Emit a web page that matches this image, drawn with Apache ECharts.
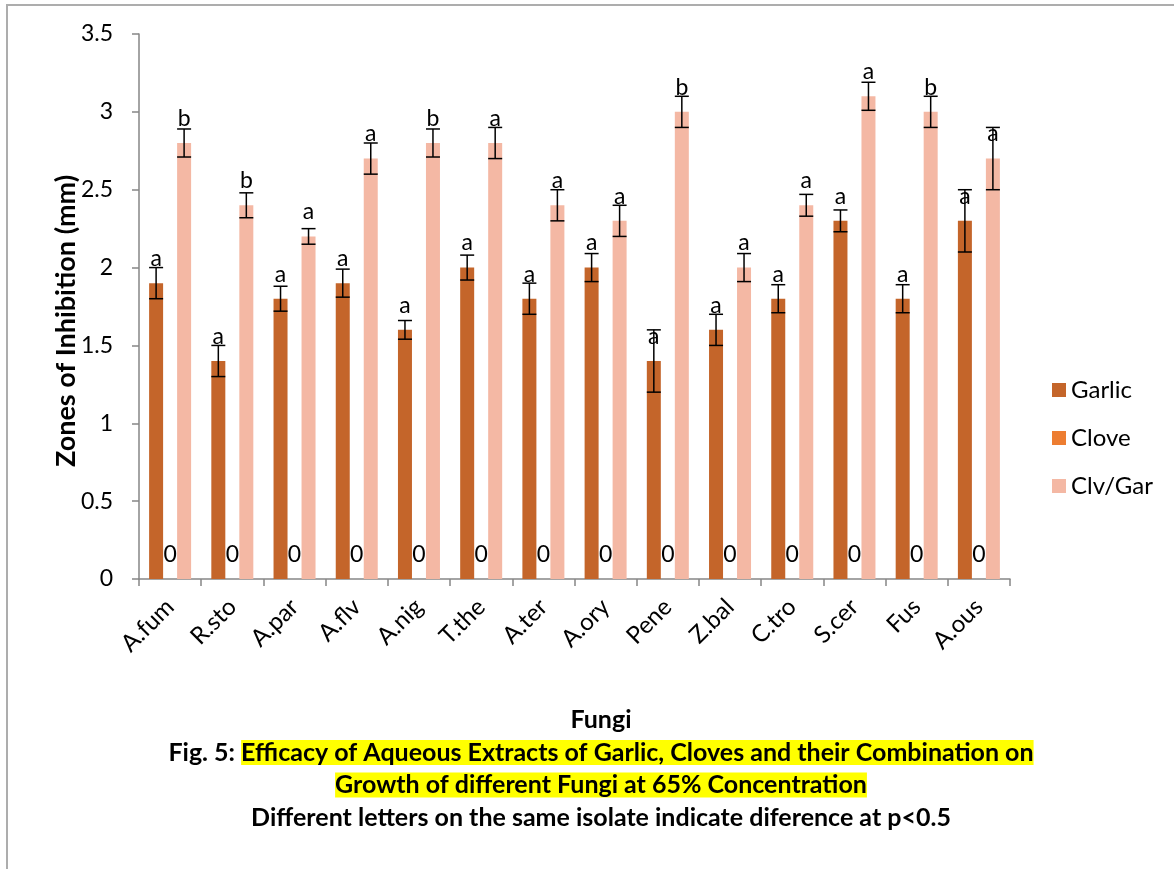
<!DOCTYPE html>
<html>
<head>
<meta charset="utf-8">
<script src="https://cdn.jsdelivr.net/npm/echarts@6/dist/echarts.min.js"></script>
<style>
  html, body { margin: 0; padding: 0; background: #fff; }
  #chart { width: 1174px; height: 869px; }
</style>
</head>
<body>
<div id="chart"></div>
<script>
// Fungal isolates
const categories = ['A.fum', 'R.sto', 'A.par', 'A.flv', 'A.nig', 'T.the', 'A.ter', 'A.ory', 'Pene', 'Z.bal', 'C.tro', 'S.cer', 'Fus', 'A.ous'];

// Mean zones of inhibition (mm)
const garlic = [1.9, 1.4, 1.8, 1.9, 1.6, 2.0, 1.8, 2.0, 1.4, 1.6, 1.8, 2.3, 1.8, 2.3];
const clove  = [0, 0, 0, 0, 0, 0, 0, 0, 0, 0, 0, 0, 0, 0];
const clvGar = [2.8, 2.4, 2.2, 2.7, 2.8, 2.8, 2.4, 2.3, 3.0, 2.0, 2.4, 3.1, 3.0, 2.7];

// Standard errors
const garlicErr = [0.1, 0.1, 0.08, 0.09, 0.06, 0.08, 0.1, 0.09, 0.2, 0.1, 0.09, 0.07, 0.09, 0.2];
const clvGarErr = [0.09, 0.08, 0.05, 0.1, 0.09, 0.1, 0.1, 0.1, 0.1, 0.09, 0.07, 0.09, 0.1, 0.2];

// Significance letters
const garlicLetters = ['a', 'a', 'a', 'a', 'a', 'a', 'a', 'a', 'a', 'a', 'a', 'a', 'a', 'a'];
const clvGarLetters = ['b', 'b', 'a', 'a', 'b', 'a', 'a', 'a', 'b', 'a', 'a', 'a', 'b', 'a'];

// Y axis ticks
const yMin = 0, yMax = 3.5, yStep = 0.5;

const FONT = 'Lato, "Open Sans", sans-serif';
const BAR_W = 14;
const COLORS = { garlic: '#C4652A', clove: '#ED7D31', clvGar: '#F4B8A4' };

function errData(values, errs) {
  return values.map((v, i) => [i, v - errs[i], v + errs[i]]);
}

function errorSeries(values, errs, offset) {
  return {
    type: 'custom',
    silent: true,
    z: 10,
    data: errData(values, errs),
    encode: { x: 0, y: [1, 2] },
    renderItem: function (params, api) {
      const idx = api.value(0);
      const lo = api.coord([idx, api.value(1)]);
      const hi = api.coord([idx, api.value(2)]);
      const x = lo[0] + offset;
      const half = BAR_W / 2;
      const style = { stroke: '#000', lineWidth: 1.5 };
      return {
        type: 'group',
        children: [
          { type: 'line', shape: { x1: x, y1: hi[1], x2: x, y2: lo[1] }, style: style },
          { type: 'line', shape: { x1: x - half, y1: hi[1], x2: x + half, y2: hi[1] }, style: style },
          { type: 'line', shape: { x1: x - half, y1: lo[1], x2: x + half, y2: lo[1] }, style: style }
        ]
      };
    }
  };
}

const labelBase = {
  show: true,
  position: 'top',
  distance: 13,
  color: '#000',
  fontFamily: FONT,
  fontSize: 23
};

const chart = echarts.init(document.getElementById('chart'), null, { renderer: 'canvas' });

chart.setOption({
  backgroundColor: '#fff',
  animation: false,
  textStyle: { fontFamily: FONT },
  grid: { left: 139, top: 34, right: 164, bottom: 290 },
  legend: {
    orient: 'vertical',
    left: 1047,
    top: 373,
    itemWidth: 14,
    itemHeight: 14,
    itemGap: 24,
    icon: 'rect',
    selectedMode: false,
    textStyle: { fontFamily: FONT, fontSize: 24, color: '#000', lineHeight: 24 },
    data: ['Garlic', 'Clove', 'Clv/Gar']
  },
  xAxis: {
    type: 'category',
    data: categories,
    axisLine: { lineStyle: { color: '#868686', width: 1.5 } },
    axisTick: { show: true, length: 7, lineStyle: { color: '#868686', width: 1.5 } },
    axisLabel: { rotate: 45, margin: 24, color: '#000', fontSize: 24, fontFamily: FONT, interval: 0 }
  },
  yAxis: {
    type: 'value',
    min: yMin,
    max: yMax,
    interval: yStep,
    splitLine: { show: false },
    axisLine: { show: true, lineStyle: { color: '#868686', width: 1.5 } },
    axisTick: { show: true, length: 7, lineStyle: { color: '#868686', width: 1.5 } },
    axisLabel: { margin: 26, color: '#000', fontSize: 23, fontFamily: FONT }
  },
  series: [
    {
      name: 'Garlic',
      type: 'bar',
      data: garlic,
      barWidth: BAR_W,
      barGap: '0%',
      itemStyle: { color: COLORS.garlic },
      label: Object.assign({}, labelBase, { formatter: p => garlicLetters[p.dataIndex] })
    },
    {
      name: 'Clove',
      type: 'bar',
      data: clove,
      barWidth: BAR_W,
      barGap: '0%',
      itemStyle: { color: COLORS.clove },
      label: Object.assign({}, labelBase, { formatter: p => String(p.value) })
    },
    {
      name: 'Clv/Gar',
      type: 'bar',
      data: clvGar,
      barWidth: BAR_W,
      barGap: '0%',
      itemStyle: { color: COLORS.clvGar },
      label: Object.assign({}, labelBase, { formatter: p => clvGarLetters[p.dataIndex] })
    },
    errorSeries(garlic, garlicErr, -BAR_W),
    errorSeries(clvGar, clvGarErr, BAR_W)
  ],
  graphic: [
    {
      type: 'polyline',
      silent: true,
      shape: { points: [[7, 869], [7, 5], [1174, 5]] },
      style: { stroke: '#ADADAD', lineWidth: 2, fill: null }
    },
    {
      type: 'text',
      x: 66,
      y: 321,
      rotation: Math.PI / 2,
      style: {
        text: 'Zones of Inhibition (mm)',
        font: 'bold 27px ' + FONT,
        fill: '#000',
        align: 'center',
        verticalAlign: 'middle'
      }
    },
    {
      type: 'text',
      x: 601,
      y: 703,
      style: {
        text: '{b|Fungi}\n{b|Fig. 5: }{h|Efficacy of Aqueous Extracts of Garlic, Cloves and their Combination on}\n{h|Growth of different Fungi at 65% Concentration}\n{b|Different letters on the same isolate indicate diference at p<0.5}',
        align: 'center',
        verticalAlign: 'top',
        fill: '#000',
        font: 'bold 25px ' + FONT,
        lineHeight: 33,
        rich: {
          b: { font: 'bold 25px ' + FONT, fill: '#000', lineHeight: 33 },
          h: { font: 'bold 25px ' + FONT, fill: '#000', lineHeight: 32, backgroundColor: '#FFFF00' }
        }
      }
    }
  ]
});
</script>
</body>
</html>
